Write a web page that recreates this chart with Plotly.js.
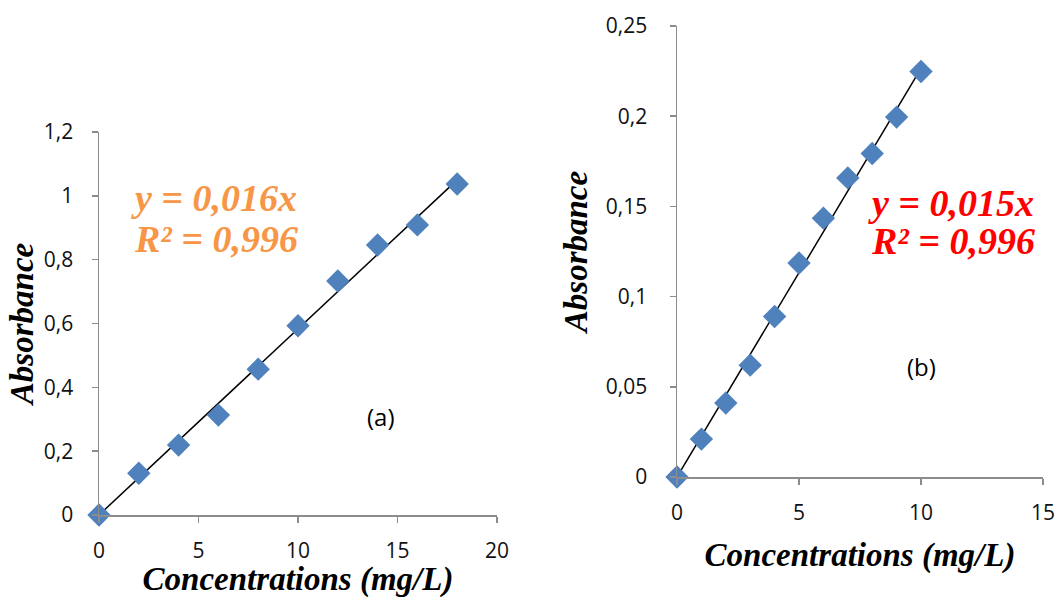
<!DOCTYPE html>
<html>
<head>
<meta charset="utf-8">
<script src="https://cdn.plot.ly/plotly-3.0.1.min.js"></script>
<style>html,body{margin:0;padding:0;background:#fff;}#chart{width:1057px;height:598px;}</style>
</head>
<body>
<div id="chart"></div>
<script>
// Panel (a)
const concA = [0, 2, 4, 6, 8, 10, 12, 14, 16, 18];
const absA = [0, 0.131, 0.219, 0.313, 0.457, 0.593, 0.733, 0.846, 0.909, 1.037];
const fitA_x = [0, 18];
const fitA_y = [0, 1.05];
const xTicksA = [0, 5, 10, 15, 20];
const xTickTextA = ["0", "5", "10", "15", "20"];
const yTicksA = [0, 0.2, 0.4, 0.6, 0.8, 1, 1.2];
const yTickTextA = ["0", "0,2", "0,4", "0,6", "0,8", "1", "1,2"];

// Panel (b)
const concB = [0, 1, 2, 3, 4, 5, 6, 7, 8, 9, 10];
const absB = [0, 0.021, 0.041, 0.062, 0.089, 0.1186, 0.1435, 0.1658, 0.1793, 0.1995, 0.2248];
const fitB_x = [0, 10];
const fitB_y = [0, 0.2265];
const xTicksB = [0, 5, 10, 15];
const xTickTextB = ["0", "5", "10", "15"];
const yTicksB = [0, 0.05, 0.1, 0.15, 0.2, 0.25];
const yTickTextB = ["0", "0,05", "0,1", "0,15", "0,2", "0,25"];

const markerStyle = {symbol: 'diamond', size: 18, color: '#4F81BD'};
const lineStyle = {color: '#000000', width: 1.5};

const traces = [
  {x: fitA_x, y: fitA_y, mode: 'lines', line: lineStyle, xaxis: 'x', yaxis: 'y', showlegend: false, hoverinfo: 'skip'},
  {x: concA, y: absA, mode: 'markers', marker: markerStyle, xaxis: 'x', yaxis: 'y', showlegend: false, cliponaxis: false},
  {x: fitB_x, y: fitB_y, mode: 'lines', line: lineStyle, xaxis: 'x2', yaxis: 'y2', showlegend: false, hoverinfo: 'skip'},
  {x: concB, y: absB, mode: 'markers', marker: markerStyle, xaxis: 'x2', yaxis: 'y2', showlegend: false, cliponaxis: false}
];

const W = 1057, H = 598;
const SERIF = 'Liberation Serif';
const tickFont = {family: 'Open Sans', size: 21, color: '#111111'};
const titleFont = {family: SERIF, size: 33, color: '#000', weight: 700, style: 'italic'};
const axisCommon = {
  showgrid: false, zeroline: false, showline: true, linecolor: '#8c8c8c', linewidth: 1.5,
  ticks: 'outside', ticklen: 6, tickcolor: '#8c8c8c', tickwidth: 1.5, tickfont: tickFont
};
const eqFont = (c) => ({family: SERIF, size: 38, color: c, weight: 700, style: 'italic'});
const ann = (text, x, y, font) => ({text: text, xref: 'paper', yref: 'paper', x: x / W, y: (H - y) / H,
  xanchor: 'center', yanchor: 'middle', showarrow: false, font: font});

const layout = {
  width: W, height: H,
  margin: {l: 0, r: 0, t: 0, b: 0},
  paper_bgcolor: '#ffffff', plot_bgcolor: '#ffffff',
  showlegend: false,
  xaxis: Object.assign({}, axisCommon, {
    domain: [99/W, 497/W], range: [0, 20], tickvals: xTicksA, ticktext: xTickTextA,
    anchor: 'y', ticklabelstandoff: 10,
    title: {text: 'Concentrations (mg/L)', font: titleFont, standoff: 12}
  }),
  yaxis: Object.assign({}, axisCommon, {
    domain: [(H-515)/H, (H-132)/H], range: [0, 1.2], tickvals: yTicksA, ticktext: yTickTextA,
    anchor: 'x', ticklabelstandoff: 14,
    title: {text: 'Absorbance', font: titleFont, standoff: 0}
  }),
  xaxis2: Object.assign({}, axisCommon, {
    domain: [677/W, 1043/W], range: [0, 15], tickvals: xTicksB, ticktext: xTickTextB,
    anchor: 'y2', ticklabelstandoff: 10,
    title: {text: 'Concentrations (mg/L)', font: titleFont, standoff: 18}
  }),
  yaxis2: Object.assign({}, axisCommon, {
    domain: [(H-477)/H, (H-26)/H], range: [0, 0.25], tickvals: yTicksB, ticktext: yTickTextB,
    anchor: 'x2', ticklabelstandoff: 18,
    title: {text: 'Absorbance', font: titleFont, standoff: 8}
  }),
  annotations: [
    ann('y = 0,016x', 214, 198, eqFont('#F79646')),
    ann('R² = 0,996', 216, 239, eqFont('#F79646')),
    ann('(a)', 381, 416, {family: 'Open Sans', size: 24, color: '#000'}),
    ann('y = 0,015x', 951, 203, eqFont('#FF0000')),
    ann('R² = 0,996', 953, 241, eqFont('#FF0000')),
    ann('(b)', 921, 366, {family: 'Open Sans', size: 24, color: '#000'})
  ]
};

Plotly.newPlot('chart', traces, layout, {displayModeBar: false, staticPlot: true});
</script>
</body>
</html>
